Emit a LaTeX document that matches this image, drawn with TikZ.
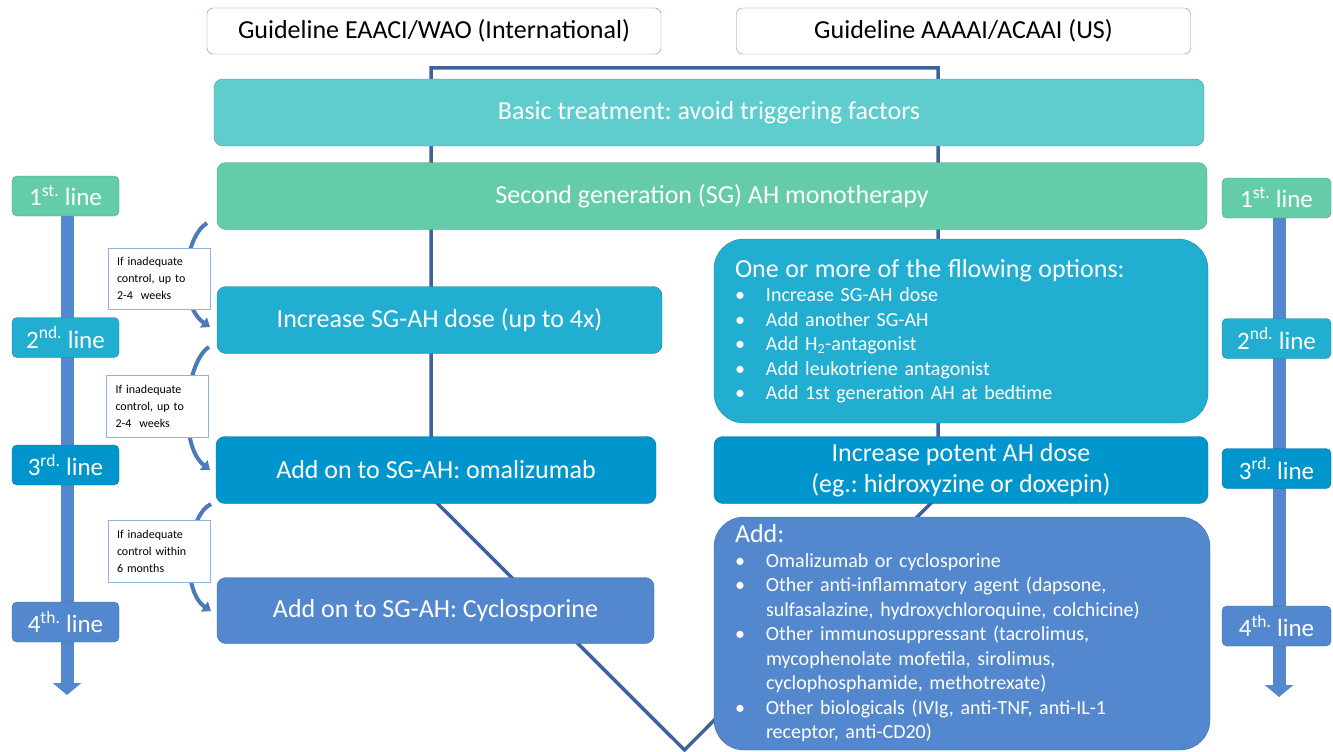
\documentclass[tikz,border=0pt]{standalone}
\usepackage{fontspec}
\setmainfont{Carlito}
\usepackage{tikz}
\usetikzlibrary{arrows.meta}
\usetikzlibrary{calc}
\frenchspacing
\definecolor{basicc}{RGB}{95,204,206}
\definecolor{firstc}{RGB}{101,204,170}
\definecolor{secondc}{RGB}{34,174,209}
\definecolor{thirdc}{RGB}{0,150,205}
\definecolor{fourthc}{RGB}{84,136,206}
\definecolor{linkc}{RGB}{61,98,158}
\definecolor{noteborder}{RGB}{141,180,226}
\tikzstyle{guide}=[draw=noteborder!80!black,fill=white,rounded corners=6pt,minimum width=454pt,minimum height=46pt,inner sep=0pt,font=\fontsize{26}{30}\selectfont]
\tikzstyle{stepbox}=[draw=#1!75!black,fill=#1,text=white,rounded corners=9pt,minimum height=67pt,inner sep=0pt,font=\fontsize{26}{30}\selectfont]
\tikzstyle{listbox}=[draw=#1!75!black,fill=#1,text=white,rounded corners=30pt,align=left,inner xsep=21pt,inner ysep=0pt,font=\fontsize{20}{24.5}\selectfont]
\tikzstyle{linebox}=[draw=#1!75!black,fill=#1,text=white,rounded corners=5pt,minimum width=107pt,minimum height=40pt,inner sep=0pt,font=\fontsize{25}{28}\selectfont]
\tikzstyle{note}=[draw=noteborder,fill=white,align=left,text width=84pt,inner xsep=9pt,inner ysep=0pt,minimum height=61pt,font=\fontsize{12}{17}\selectfont]
\tikzstyle{timeline}=[draw=fourthc,line width=13pt,-{Triangle[length=12pt,width=28pt]}]
\tikzstyle{curved}=[draw=fourthc!90!black,line width=4pt,-{Triangle[length=8pt,width=12pt]}]
\tikzstyle{link}=[draw=linkc,line width=3.5pt,line join=miter]
\newcommand{\bul}{\makebox[31pt][l]{\textbullet}}
\newcommand{\cont}{\hspace*{31pt}}

\begin{document}
\begin{tikzpicture}[x=1pt,y=-1pt]
    \useasboundingbox (0,0) rectangle (1333,752);

    % frame joining both guidelines
    \coordinate (ltop) at (431,68);
    \coordinate (rtop) at (938,68);
    \coordinate (lbot) at (431,497);
    \coordinate (rbot) at (938,496);
    \coordinate (vtip) at (684.5,750);
    \draw[link] (lbot) -- (ltop) -- (rtop) -- (rbot) -- (vtip) -- cycle;

    \node[guide] (eaaci) at (434,31) {Guideline EAACI/WAO (International)};
    \node[guide] (aaaai) at (963.5,31) {Guideline AAAAI/ACAAI (US)};

    \node[stepbox=basicc, minimum width=990pt] (basic) at (709,112.5) {Basic treatment: avoid triggering factors};
    \node[stepbox=firstc, minimum width=990pt] (sgah) at (712,196) {Second generation (SG) AH monotherapy};

    % EAACI/WAO steps
    \node[stepbox=secondc, minimum width=445pt] (incsg) at (439.5,320) {Increase SG-AH dose (up to 4x)};
    \node[stepbox=thirdc, minimum width=440pt] (omal) at (436,470) {Add on to SG-AH: omalizumab};
    \node[stepbox=fourthc, minimum width=437pt, minimum height=66pt] (cyclo) at (435.5,610.5) {Add on to SG-AH: Cyclosporine};

    % AAAAI/ACAAI steps
    \node[listbox=secondc, text width=452pt, minimum height=184pt] (options) at (961,331) {%
        {\fontsize{26}{24.5}\selectfont One or more of the fllowing options:}\\
        \bul Increase SG-AH dose\\
        \bul Add another SG-AH\\
        \bul Add H\textsubscript{2}-antagonist\\
        \bul Add leukotriene antagonist\\
        \bul Add 1st generation AH at bedtime};
    \node[stepbox=thirdc, minimum width=494pt, align=center, font=\fontsize{26}{31}\selectfont] (potent) at (961,470) {Increase potent AH dose\\(eg.: hidroxyzine or doxepin)};
    \node[listbox=fourthc, text width=454pt, minimum height=233pt] (addall) at (962,633.5) {%
        {\fontsize{26}{24.5}\selectfont Add:}\\
        \bul Omalizumab or cyclosporine\\
        \bul Other anti-inflammatory agent (dapsone,\\
        \cont sulfasalazine, hydroxychloroquine, colchicine)\\
        \bul Other immunosuppressant (tacrolimus,\\
        \cont mycophenolate mofetila, sirolimus,\\
        \cont cyclophosphamide, methotrexate)\\
        \bul Other biologicals (IVIg, anti-TNF, anti-IL-1\\
        \cont receptor, anti-CD20)};

    % time lines
    \coordinate (lend) at (67,695);
    \coordinate (rend) at (1279,697);
    \draw[timeline] (67,216) -- (lend);
    \draw[timeline] (1279,218) -- (rend);
    \foreach \pos/\name/\label/\col in {{(65.5,196)/lone/1\textsuperscript{st.}/firstc},{(65.5,337.5)/ltwo/2\textsuperscript{nd.}/secondc},
        {(65.5,465)/lthree/3\textsuperscript{rd.}/thirdc},{(65.5,622)/lfour/4\textsuperscript{th.}/fourthc}}
        \node[linebox=\col] (\name) at \pos {\label\ line};
    \foreach \pos/\name/\label/\col in {{(1276.5,198)/rone/1\textsuperscript{st.}/firstc},{(1276.5,338.5)/rtwo/2\textsuperscript{nd.}/secondc},
        {(1276.5,468.5)/rthree/3\textsuperscript{rd.}/thirdc},{(1276.5,626)/rfour/4\textsuperscript{th.}/fourthc}}
        \node[linebox=\col, minimum width=109pt] (\name) at \pos {\label\ line};

    % curved arrows between the steps
    \coordinate (cua) at (207,223);
    \coordinate (cub) at (210,327);
    \coordinate (cva) at (209,347);
    \coordinate (cvb) at (210,470);
    \coordinate (cwa) at (211,504);
    \coordinate (cwb) at (211,611);
    \draw[curved] (cua) .. controls (183,238) and (178,305) .. (cub);
    \draw[curved] (cva) .. controls (185,362) and (178,445) .. (cvb);
    \draw[curved] (cwa) .. controls (187,515) and (180,590) .. (cwb);

    \node[note] (notea) at (159,278.5) {If inadequate\\control, up to\\2-4~ weeks};
    \node[note, minimum height=62pt] (noteb) at (157.5,406) {If inadequate\\control, up to\\2-4~ weeks};
    \node[note, minimum height=62pt] (notec) at (159,551) {If inadequate\\control within\\6 months};

\end{tikzpicture}
\end{document}
